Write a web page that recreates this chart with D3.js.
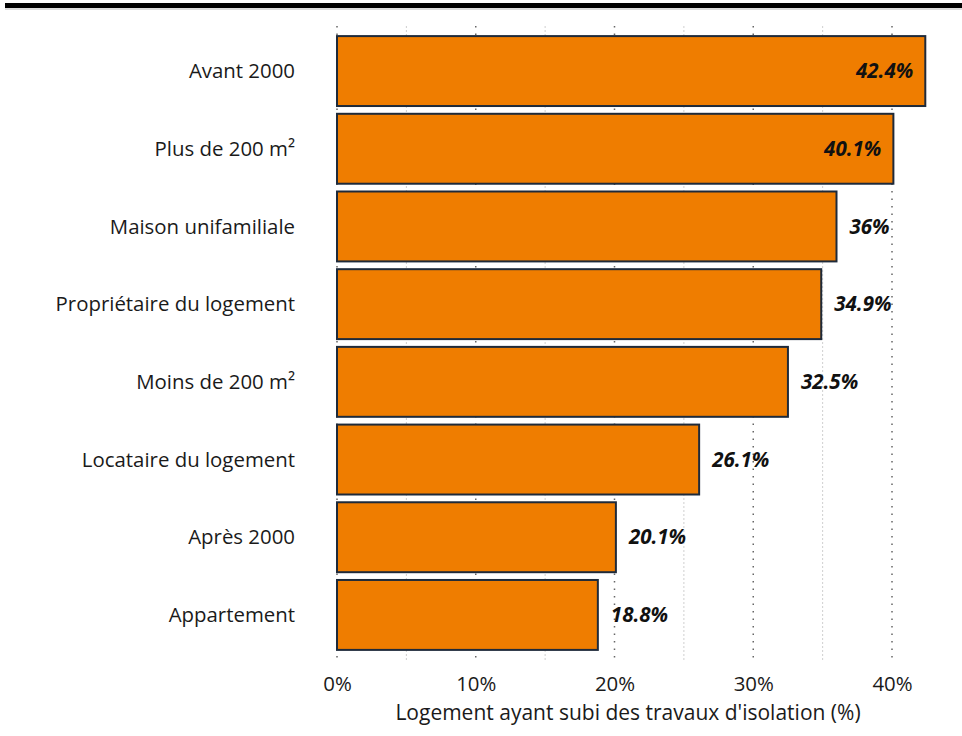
<!DOCTYPE html>
<meta charset="utf-8">
<script src="https://d3js.org/d3.v7.min.js"></script>
<style>
body { margin: 0; background: #fff; }
text { font-family: "Open Sans", sans-serif; }
</style>
<div id="my_dataviz"></div>
<script>

// data
var categories = ["Avant 2000", "Plus de 200 m²", "Maison unifamiliale", "Propriétaire du logement",
                  "Moins de 200 m²", "Locataire du logement", "Après 2000", "Appartement"];
var values = [42.4, 40.1, 36, 34.9, 32.5, 26.1, 20.1, 18.8];
var valueLabels = ["42.4%", "40.1%", "36%", "34.9%", "32.5%", "26.1%", "20.1%", "18.8%"];
var majorTicks = [0, 10, 20, 30, 40];
var minorTicks = [5, 15, 25, 35];

var W = 962, H = 736;
var margin = {top: 26, left: 337},
    height = 634;

var svg = d3.select("#my_dataviz")
  .append("svg")
    .attr("width", W)
    .attr("height", H);

// top rule
svg.append("rect").attr("x", 5).attr("y", 3).attr("width", W - 5).attr("height", 5).attr("fill", "#000");
svg.append("line").attr("x1", 5).attr("x2", W).attr("y1", 9).attr("y2", 9).attr("stroke", "#bbb").attr("stroke-width", 1);

var g = svg.append("g")
  .attr("transform", "translate(" + margin.left + "," + margin.top + ")");

var x = d3.scaleLinear()
  .domain([0, 40])
  .range([0, 555]);

var y = d3.scaleBand()
  .domain(categories)
  .range([0, height])
  .paddingInner(0.1)
  .paddingOuter(0.13);

// grid
g.selectAll(".minor")
  .data(minorTicks)
  .enter().append("line")
    .attr("x1", function(d) { return x(d); })
    .attr("x2", function(d) { return x(d); })
    .attr("y1", 0).attr("y2", height)
    .attr("stroke", "#cfcfcf")
    .attr("stroke-width", 1)
    .attr("stroke-dasharray", "2,2");

g.selectAll(".major")
  .data(majorTicks)
  .enter().append("line")
    .attr("x1", function(d) { return x(d); })
    .attr("x2", function(d) { return x(d); })
    .attr("y1", 0).attr("y2", height)
    .attr("stroke", "#666")
    .attr("stroke-width", 1.5)
    .attr("stroke-dasharray", "1.5,6");

// bars
g.selectAll(".bar")
  .data(values)
  .enter().append("rect")
    .attr("x", x(0))
    .attr("y", function(d, i) { return y(categories[i]); })
    .attr("width", function(d) { return x(d) - x(0); })
    .attr("height", y.bandwidth())
    .attr("fill", "#ef7d00")
    .attr("stroke", "#1e2a3a")
    .attr("stroke-width", 2);

// value labels
g.selectAll(".val")
  .data(values)
  .enter().append("text")
    .attr("x", function(d) { return d > 38 ? x(d) - 12 : x(d) + 13; })
    .attr("y", function(d, i) { return y(categories[i]) + y.bandwidth() / 2; })
    .attr("dy", "0.35em")
    .attr("text-anchor", function(d) { return d > 38 ? "end" : "start"; })
    .style("font-size", "20.5px")
    .style("font-weight", "bold")
    .style("font-style", "italic")
    .attr("fill", "#111")
    .text(function(d, i) { return valueLabels[i]; });

// category labels
g.selectAll(".cat")
  .data(categories)
  .enter().append("text")
    .attr("x", -42)
    .attr("y", function(d) { return y(d) + y.bandwidth() / 2; })
    .attr("dy", "0.35em")
    .attr("text-anchor", "end")
    .style("font-size", "20.4px")
    .attr("fill", "#1a1a1a")
    .text(function(d) { return d; });

// x axis
var xAxis = g.append("g")
  .attr("transform", "translate(0," + height + ")")
  .call(d3.axisBottom(x).tickValues(majorTicks).tickSize(0).tickPadding(17)
    .tickFormat(function(d) { return d + "%"; }));
xAxis.select(".domain").remove();
xAxis.selectAll("text")
  .style("font-size", "20.4px")
  .style("font-family", "'Open Sans', sans-serif")
  .attr("fill", "#1a1a1a");

g.append("text")
  .attr("x", x(0) + 291)
  .attr("y", 694)
  .attr("text-anchor", "middle")
  .style("font-size", "21px")
  .attr("fill", "#1a1a1a")
  .text("Logement ayant subi des travaux d'isolation (%)");

</script>
